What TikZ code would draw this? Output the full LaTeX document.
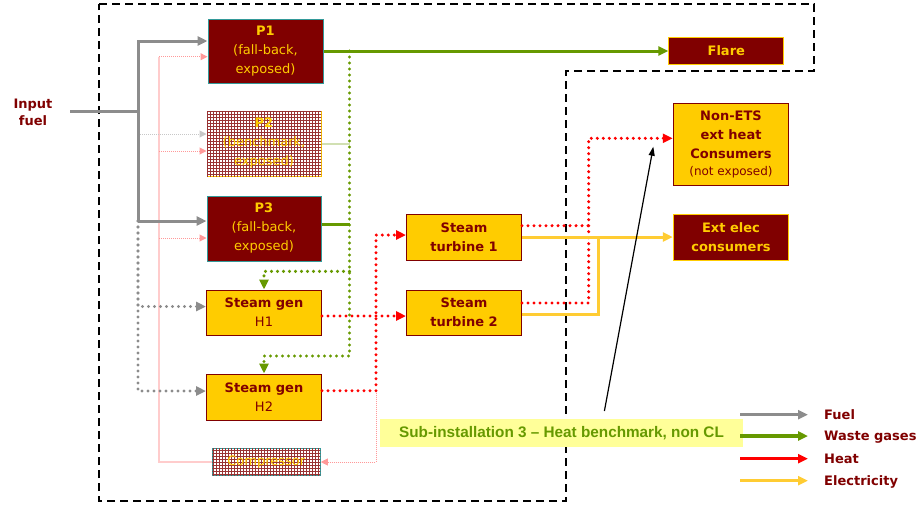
\documentclass[tikz,border=0pt]{standalone}
\usepackage{fontspec}
\setmainfont{DejaVu Sans}
\newfontfamily\arialfont{Liberation Sans}
\usetikzlibrary{arrows.meta,patterns}
\definecolor{maroon}{HTML}{800000}
\definecolor{gold}{HTML}{FFCC00}
\definecolor{tealb}{HTML}{339999}
\definecolor{wgreen}{HTML}{669900}
\definecolor{fgray}{HTML}{8C8C8C}
\definecolor{elec}{HTML}{FFCC33}
\definecolor{pinkl}{HTML}{FF9999}
\definecolor{lemon}{HTML}{FFFF99}
\tikzset{
  box/.style = {align=center, inner sep=0pt, line width=1pt, font=\fontsize{13}{19}\selectfont},
  box_r/.style = {box, draw=tealb, fill=maroon, text=gold},
  box_o/.style = {box, draw=gold, fill=maroon, text=gold},
  box_y/.style = {box, draw=maroon, fill=gold, text=maroon},
  box_h/.style = {box, text=gold, fill=white, postaction={pattern=grid, pattern color=maroon!80}},
  label_t/.style = {align=center, inner sep=0pt, text=maroon, font=\bfseries\fontsize{13}{17}\selectfont},
  dot_line/.style = {line cap=round, dash pattern=on 0pt off 6pt},
  tip/.style = {-{Triangle[length=10pt,width=9pt]}},
  tip_s/.style = {-{Triangle[length=7pt,width=7pt]}},
  fuel_l/.style = {draw=fgray, line width=3pt},
  fuel_d/.style = {fuel_l, line width=3.4pt, dot_line},
  waste_l/.style = {draw=wgreen, line width=3pt},
  waste_d/.style = {waste_l, line width=3.4pt, dot_line},
  heat_d/.style = {draw=red, line width=3.4pt, dot_line},
  elec_l/.style = {draw=elec, line width=3pt},
  pink_d/.style = {draw=pinkl, line width=1pt, dash pattern=on 1pt off 1pt},
  pink_v/.style = {draw=pinkl!50, line width=1.5pt},
  bound/.style = {draw=black, line width=2.8pt, dash pattern=on 8pt off 5pt}
}
\begin{document}
\begin{tikzpicture}[x=1pt, y=-1pt]
	\useasboundingbox (0,0) rectangle (919,504);
	\draw[bound] (99,4) -- (814,4) -- (814,71) -- (566,71) -- (566,501) -- (99,501) -- cycle;

	\node[label_t] (input) at (33,112) {Input\\fuel};
	\node[box_r, minimum width=115pt, minimum height=64pt] (P1) at (265.5,51) {\textbf{P1}\\(fall-back,\\exposed)};
	\node[box_h, draw=gold, minimum width=114pt, minimum height=65pt] (P2) at (264,143.5) {\textbf{P2}\\(benchmark,\\exposed)};
	\node[box_r, minimum width=114pt, minimum height=65pt] (P3) at (264,228.5) {\textbf{P3}\\(fall-back,\\exposed)};
	\node[box_y, minimum width=115pt, minimum height=45pt] (H1) at (264,312.5) {\textbf{Steam gen}\\H1};
	\node[box_y, minimum width=115pt, minimum height=46pt] (H2) at (264,397) {\textbf{Steam gen}\\H2};
	\node[box_h, draw=tealb, minimum width=108pt, minimum height=26.5pt] (comp) at (266.3,462) {Compressor};
	\node[box_y, minimum width=115pt, minimum height=46pt] (ST1) at (464,237) {\textbf{Steam}\\\textbf{turbine 1}};
	\node[box_y, minimum width=115pt, minimum height=45pt] (ST2) at (464,312.5) {\textbf{Steam}\\\textbf{turbine 2}};
	\node[box_o, minimum width=115pt, minimum height=26.5pt] (flare) at (726.3,51) {\textbf{Flare}};
	\node[box_y, minimum width=115.5pt, minimum height=82pt] (nonets) at (731,144) {\textbf{Non-ETS}\\\textbf{ext heat}\\\textbf{Consumers}\\[-2pt]{\fontsize{12}{15}\selectfont(not exposed)}};
	\node[box_o, minimum width=115.5pt, minimum height=46pt] (extelec) at (731,237) {\textbf{Ext elec}\\\textbf{consumers}};
	\node[fill=lemon, text=wgreen, inner sep=0pt, minimum width=363pt, minimum height=28pt, font=\arialfont\bfseries\fontsize{15.3}{18}\selectfont] (sub3) at (561.5,433) {Sub-installation 3 – Heat benchmark, non CL};

	\coordinate (fuel_in) at (70,111.3);
	\coordinate (trunk_t) at (138,41);
	\coordinate (trunk_b) at (138,221);
	\coordinate (pink_t) at (159,56.7);
	\coordinate (g_t) at (349.5,51);
	\coordinate (g_m) at (349.5,271.3);
	\coordinate (g_b) at (349.5,356);
	\coordinate (h_j) at (376,390.7);
	\coordinate (h_v) at (588.7,303);
	\coordinate (e_v) at (598,314);
	\coordinate (note_a) at (604.4,411);
	\coordinate (note_b) at (653.3,146.7);

	\draw[pink_v] (comp.west) -| (pink_t);
	\draw[pink_d, tip_s] (pink_t) -- ([yshift=-5.7pt]P1.west);
	\draw[pink_d, tip_s] ([yshift=-7.5pt]P2.west -| pink_t) -- ([yshift=-7.5pt]P2.west);
	\draw[pink_d, tip_s] ([yshift=-9.5pt]P3.west -| pink_t) -- ([yshift=-9.5pt]P3.west);
	\draw[pink_d, tip_s] (h_j) |- (comp.east);
	\draw[draw=black!22, line width=1pt, dash pattern=on 1pt off 1pt, tip_s] ([yshift=9.5pt]P2.west -| trunk_t) -- ([yshift=9.5pt]P2.west);

	\draw[fuel_l] (fuel_in) -- (fuel_in -| trunk_t);
	\draw[fuel_l, tip] (trunk_b) -- (trunk_t) -- ([yshift=10pt]P1.west);
	\draw[fuel_l, tip] (trunk_b) -- ([yshift=7.5pt]P3.west);
	\draw[fuel_d, tip] (trunk_b) |- ([yshift=6pt]H1.west);
	\draw[fuel_d, tip] (trunk_b) |- ([yshift=6pt]H2.west);

	\draw[waste_l, tip] (P1.east) -- (flare.west);
	\draw[waste_d, tip] (g_t) -- (g_b) -| (H2.north);
	\draw[waste_d, tip] (g_m) -| (H1.north);
	\draw[waste_l] ([yshift=4.5pt]P3.east) -- ([yshift=4.5pt]P3.east -| g_t);
	\draw[draw=wgreen!30, line width=1.5pt] ([yshift=-0.5pt]P2.east) -- ([yshift=-0.5pt]P2.east -| g_t);

	\draw[heat_d, tip] ([yshift=-3.5pt]H1.east) -- ([yshift=-3.5pt]ST2.west);
	\draw[heat_d, tip] ([yshift=6.3pt]H2.east) -- (h_j) |- ([yshift=2pt]ST1.west);
	\draw[heat_d] ([yshift=11.3pt]ST1.east) -- ([yshift=11.3pt]ST1.east -| h_v);
	\draw[heat_d, tip] ([yshift=9.5pt]ST2.east) -- (h_v) |- ([yshift=5.7pt]nonets.west);

	\draw[elec_l, tip] (ST1.east) -- (extelec.west);
	\draw[elec_l] ([yshift=-1.5pt]ST2.east) -- (e_v) -- (e_v |- extelec.west);

	\draw[line width=1.2pt, -{Triangle[length=9pt,width=6pt]}] (note_a) -- (note_b);

	\foreach \y/\c/\t [count=\i] in {414.7/fgray/Fuel, 436/wgreen/Waste gases, 458.7/red/Heat, 480.7/elec/Electricity} {
		\coordinate (leg_a\i) at (740,\y);
		\draw[draw=\c, line width=3.5pt, tip] (leg_a\i) -- ++(68,0);
		\node[label_t, anchor=west, text depth=0pt] (leg_\i) at (824,\y) {\t};
	}
\end{tikzpicture}
\end{document}
